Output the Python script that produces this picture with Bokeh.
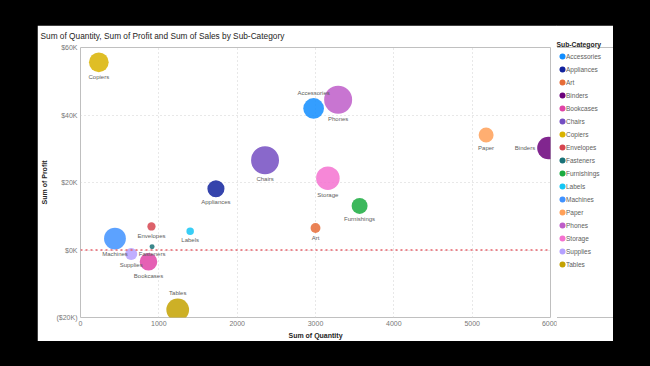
import numpy as np
from bokeh.plotting import figure
from bokeh.layouts import row
from bokeh.models import Range1d, FixedTicker, Span, ColumnDataSource
from bokeh.core.properties import value
from bokeh.embed import file_html
from bokeh.resources import INLINE

# ---------------- data ----------------
categories = ["Accessories", "Appliances", "Art", "Binders", "Bookcases", "Chairs",
              "Copiers", "Envelopes", "Fasteners", "Furnishings", "Labels", "Machines",
              "Paper", "Phones", "Storage", "Supplies", "Tables"]
quantity = [2976, 1729, 3000, 5974, 868, 2356, 234, 906, 914, 3563, 1400, 440,
            5178, 3289, 3158, 647, 1241]
profit = [41937, 18138, 6528, 30222, -3473, 26590, 55618, 6964, 950, 13059, 5546,
          3385, 34054, 44516, 21279, -1189, -17725]
sales = [167380, 107532, 27119, 203413, 114880, 328449, 149528, 16476, 3024, 91705,
         12486, 189239, 78479, 330007, 223844, 46674, 206966]
colors = ["#118DFF", "#12239E", "#E66C37", "#6B007B", "#E044A7", "#744EC2",
          "#D9B300", "#D64550", "#197278", "#1AAB40", "#15C6F4", "#4092FF",
          "#FFA058", "#BE5DC9", "#F472D0", "#B5A1FF", "#C4A200"]
label_side = {"Accessories": "above", "Tables": "above", "Binders": "left"}
legend_title = "Sub-Category"

x_ticks = [0, 1000, 2000, 3000, 4000, 5000, 6000]
y_ticks = [-20000, 0, 20000, 40000, 60000]
y_tick_labels = ["($20K)", "$0K", "$20K", "$40K", "$60K"]

# ---------------- styling ----------------
AX_FONT = "Liberation Sans"
LB_FONT = "Liberation Sans"
FW, FH = 470, 270  # plot frame size (px)
LEG_W = 57         # legend panel width (px)
LEG_FIRST = 9      # first legend row centre, px below frame top
LEG_PITCH = 13     # legend row pitch, px
TOP = 25           # top margin of the white panel

radius = 1.28 + 0.02216 * np.sqrt(np.array(sales, dtype=float))
sides = [label_side.get(c, "below") for c in categories]
x_off, y_off, t_align = [], [], []
for s, r in zip(sides, radius):
    if s == "below":
        x_off.append(0); y_off.append(r + 5); t_align.append("center")
    elif s == "above":
        x_off.append(0); y_off.append(-(r + 5)); t_align.append("center")
    else:
        x_off.append(-(r + 2)); y_off.append(0); t_align.append("right")

src = ColumnDataSource(dict(x=quantity, y=profit, cat=categories, color=colors,
                            size=list(2 * radius), xo=x_off, yo=y_off, al=t_align))

# ---------------- main chart ----------------
p = figure(frame_width=FW, frame_height=FH, output_backend="svg",
           toolbar_location=None,
           x_range=Range1d(0, 6000), y_range=Range1d(-20000, 60000),
           min_border_left=43, min_border_right=7, min_border_top=0,
           min_border_bottom=0)
p.margin = (TOP, 0, 0, 37)
p.background_fill_color = "white"
p.border_fill_color = "white"
p.outline_line_color = None

p.title.text = "Sum of Quantity, Sum of Profit and Sum of Sales by Sub-Category"
p.title.text_font = AX_FONT
p.title.text_font_size = "8.3px"
p.title.text_font_style = "normal"
p.title.text_color = "#252423"
p.title.align = "left"
p.title.vertical_align = "top"
p.title.offset = -40
p.title.standoff = 10

for ax in (p.xaxis, p.yaxis):
    ax.axis_line_color = None
    ax.major_tick_line_color = None
    ax.minor_tick_line_color = None
    ax.major_tick_out = 0
    ax.major_tick_in = 0
    ax.minor_tick_out = 0
    ax.minor_tick_in = 0
    ax.major_label_text_font = AX_FONT
    ax.major_label_text_font_size = "7px"
    ax.major_label_text_color = "#777777"
    ax.axis_label_text_font = AX_FONT
    ax.axis_label_text_font_size = "7px"
    ax.axis_label_text_font_style = "bold"
    ax.axis_label_text_color = "#252423"

p.yaxis.major_label_standoff = 3
p.yaxis.axis_label_standoff = 5
p.xaxis.major_label_standoff = 3
p.xaxis.axis_label_standoff = 3

p.xaxis.ticker = FixedTicker(ticks=x_ticks)
p.yaxis.ticker = FixedTicker(ticks=y_ticks)
p.yaxis.major_label_overrides = {t: l for t, l in zip(y_ticks, y_tick_labels)}
p.xaxis.axis_label = "Sum of Quantity"
p.yaxis.axis_label = "Sum of Profit"

for g in (p.xgrid, p.ygrid):
    g.grid_line_color = "#D0D0D0"
    g.grid_line_dash = "1 3"
    g.grid_line_width = 1

p.add_layout(Span(location=0, dimension="width", line_color="#E8606A",
                  line_dash="2 3", line_width=1.5))

p.scatter("x", "y", source=src, size="size", fill_color="color",
          fill_alpha=0.85, line_color=None)

p.text("x", "y", text="cat", source=src, x_offset="xo", y_offset="yo",
       text_align="al", text_baseline="middle", text_font=value(LB_FONT),
       text_font_size="6px", text_color="#605E5C")

# ---------------- legend panel ----------------
# y in "legend row" units: row i sits at y = i, rows LEG_PITCH px apart
top_u = -LEG_FIRST / LEG_PITCH
lf = figure(frame_width=LEG_W, frame_height=FH, output_backend="svg",
            toolbar_location=None,
            x_range=Range1d(0, LEG_W), y_range=Range1d(top_u + FH / LEG_PITCH, top_u),
            x_axis_location=None, y_axis_location=None, min_border=0,
            min_border_bottom=37)
lf.margin = (TOP, 0, 0, -1)
lf.grid.visible = False
lf.outline_line_color = None
lf.background_fill_color = "white"
lf.border_fill_color = "white"
lf.title.text = legend_title
lf.title.text_font = AX_FONT
lf.title.text_font_size = "6.8px"
lf.title.text_font_style = "bold"
lf.title.text_color = "#252423"
lf.title.align = "left"
lf.title.offset = 0
lf.title.standoff = 0

leg_src = ColumnDataSource(dict(row=list(range(len(categories))), cat=categories,
                                color=colors))
lf.scatter(x=6, y="row", source=leg_src, size=6, fill_color="color",
           line_color=None)
lf.text(x=9.5, y="row", text="cat", source=leg_src, text_align="left",
        text_baseline="middle", text_font=value(LB_FONT), text_font_size="6.5px",
        text_color="#605E5C")

layout = row(p, lf, spacing=0)

html = file_html(layout, INLINE)
i = html.rfind("<body>")
if i >= 0:
    html = html[:i] + '<body style="background:#000000;">' + html[i + 6:]
open("out.html", "w").write(html)
